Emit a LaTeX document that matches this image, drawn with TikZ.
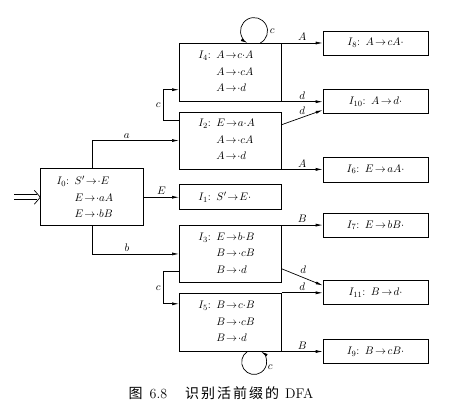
\documentclass[tikz,border=0pt]{standalone}
\usepackage{fontspec}
\newfontfamily\cjk{Noto Sans CJK SC}
\usetikzlibrary{positioning,arrows.meta}
\thickmuskip=1.5mu plus 1mu

\tikzset{
  items/.style={draw,line width=0.7pt,minimum height=58pt,text width=64pt,
    inner xsep=19pt,inner ysep=0pt,align=left,font=\fontsize{11}{16.5}\selectfont},
  reduce/.style={draw,line width=0.7pt,minimum height=24pt,text width=97pt,
    inner xsep=4pt,inner ysep=0pt,align=center,font=\fontsize{11}{13}\selectfont},
  trans/.style={line width=0.7pt,-{Latex[length=7pt,width=3pt]}},
  entry/.style={line width=0.7pt},
  lab/.style={inner sep=2pt,font=\fontsize{11}{13}\selectfont}
}

\begin{document}
\begin{tikzpicture}[x=1pt,y=1pt]
    \useasboundingbox (0,0) rectangle (468,-403);
                \node[items,anchor=north west](I4) at (179,-43)
                   {$I_4$: $A\to c{\cdot}A$\\ \phantom{$I_4$: }$A\to{\cdot}cA$\\ \phantom{$I_4$: }$A\to{\cdot}d$};
                \node[items,node distance=10pt,minimum height=57pt](I2)[below =of I4]
                   {$I_2$: $E\to a{\cdot}A$\\ \phantom{$I_2$: }$A\to{\cdot}cA$\\ \phantom{$I_2$: }$A\to{\cdot}d$};
                \node[items,node distance=15pt,minimum height=25pt](I1)[below =of I2]
                   {$I_1$: $S'\to E{\cdot}$};
                \node[items,node distance=15pt,minimum height=57pt](I3)[below =of I1]
                   {$I_3$: $E\to b{\cdot}B$\\ \phantom{$I_3$: }$B\to{\cdot}cB$\\ \phantom{$I_3$: }$B\to{\cdot}d$};
                \node[items,node distance=10pt](I5)[below =of I3]
                   {$I_5$: $B\to c{\cdot}B$\\ \phantom{$I_5$: }$B\to{\cdot}cB$\\ \phantom{$I_5$: }$B\to{\cdot}d$};
    \node[items,node distance=35pt,minimum height=57pt,text width=71pt,inner xsep=16pt](I0)[left =of I1]
       {$I_0$: $S'\to{\cdot}E$\\ \hspace*{18pt}$E\to{\cdot}aA$\\ \hspace*{18pt}$E\to{\cdot}bB$};
    \node[reduce,node distance=41pt,anchor=north west](I8)[right =of I4.north east]{$I_8$: $A\to cA{\cdot}$};
    \node[reduce,node distance=41pt,anchor=south west](I10)[right =of I4.south east]{$I_{10}$: $A\to d{\cdot}$};
    \node[reduce,node distance=41pt,anchor=south west,minimum height=25pt](I6)[right =of I2.south east]{$I_6$: $E\to aA{\cdot}$};
    \node[reduce,node distance=41pt,anchor=north west](I7)[right =of I3.north east]{$I_7$: $E\to bB{\cdot}$};
    \node[reduce,node distance=41pt,anchor=north west](I11)[right =of I5.north east]{$I_{11}$: $B\to d{\cdot}$};
    \node[reduce,node distance=41pt,anchor=south west](I9)[right =of I5.south east]{$I_9$: $B\to cB{\cdot}$};
    % start arrow, drawn as two lines and an open head
    \coordinate[left=26pt of I0.west](start);
    \draw[entry]([yshift=2.5pt]start) -- ([xshift=-3pt,yshift=2.5pt]I0.west)
                ([yshift=-2.5pt]start) -- ([xshift=-3pt,yshift=-2.5pt]I0.west);
    \draw[entry]([xshift=-6pt,yshift=7pt]I0.west) .. controls ([xshift=-3pt,yshift=3pt]I0.west) .. (I0.west)
                .. controls ([xshift=-3pt,yshift=-3pt]I0.west) .. ([xshift=-6pt,yshift=-7pt]I0.west);
    \path[trans](I0) edge node[lab,above]{$E$}(I1);
    \draw[trans](I0.north) |- node[lab,above,pos=0.7]{$a$}(I2.west);
    \draw[trans](I0.south) |- node[lab,above,pos=0.7]{$b$}(I3.west);
    \draw[trans]([yshift=-9pt]I2.north west) -- ++(-16,0) |- node[lab,left,pos=0.25]{$c$}([yshift=12pt]I4.south west);
    \draw[trans]([yshift=11pt]I3.south west) -- ++(-16,0) |- node[lab,left,pos=0.25]{$c$}([yshift=-11pt]I5.north west);
    \draw[trans]([xshift=30pt]I4.north) arc[start angle=-62,end angle=242,radius=13.5pt]
        node[lab,pos=0.2,right]{$c$};
    \draw[trans]([xshift=17pt]I5.south) arc[start angle=123,end angle=417,radius=12.5pt]
        node[lab,pos=0.72,right]{$c$};
    \path[trans](I4.east |- I8) edge node[lab,above]{$A$}(I8)
                (I4.east |- I10) edge node[lab,above]{$d$}(I10)
                ([yshift=-13pt]I2.north east) edge node[lab,above=1pt]{$d$}([yshift=4pt]I10.south west)
                (I2.east |- I6) edge node[lab,above]{$A$}(I6)
                (I3.east |- I7) edge node[lab,above]{$B$}(I7)
                ([yshift=14pt]I3.south east) edge node[lab,above right=0pt,pos=0.4]{$d$}([yshift=-5pt]I11.north west)
                (I5.east |- I11) edge node[lab,above]{$d$}(I11)
                (I5.east |- I9) edge node[lab,above]{$B$}(I9);
    \node[font=\fontsize{14}{16}\selectfont](caption) at (221,-393)
       {{\cjk 图}\hspace{7pt}6.8\hspace{18pt}{\cjk 识\hspace{2pt}别\hspace{2pt}活\hspace{2pt}前\hspace{2pt}缀\hspace{2pt}的}\hspace{6pt}DFA};
\end{tikzpicture}
\end{document}
